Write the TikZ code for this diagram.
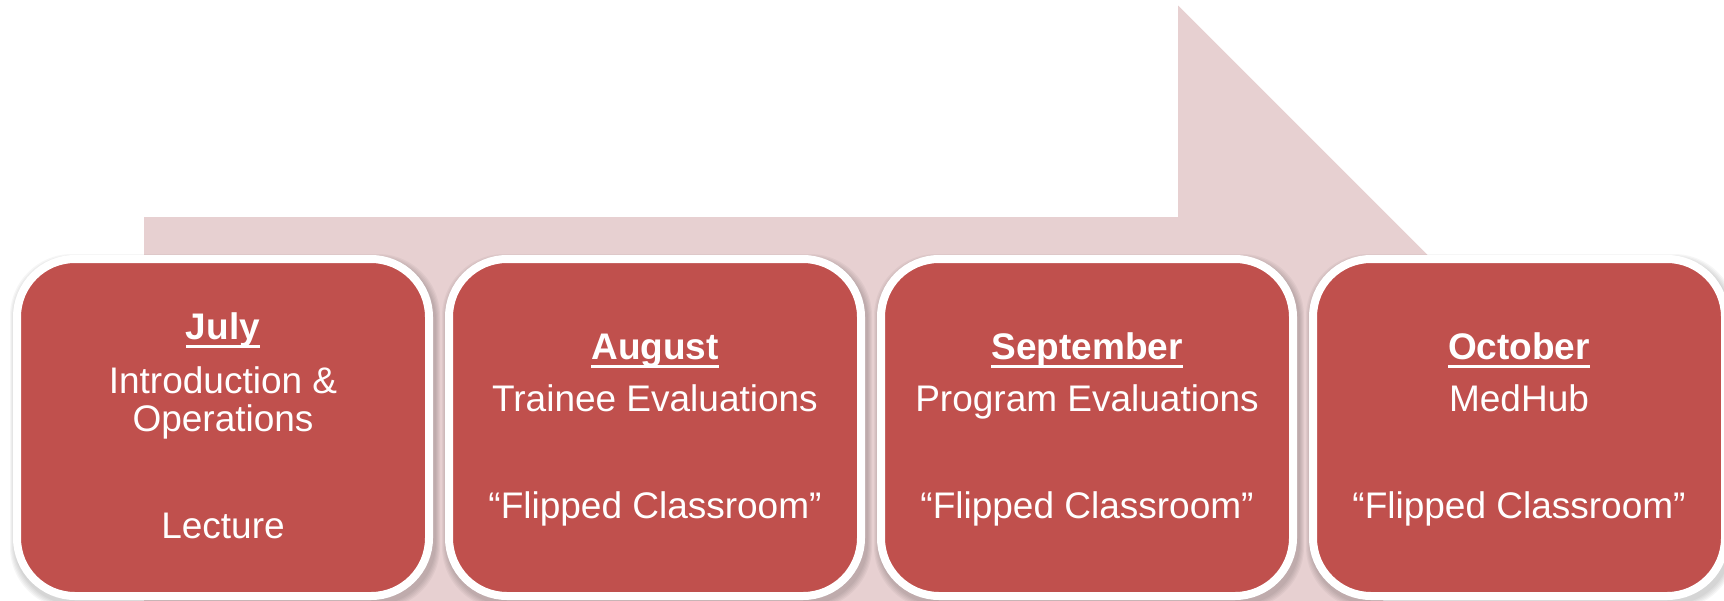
\documentclass[tikz,border=0pt]{standalone}
\usepackage{fontspec}
\setmainfont{Liberation Sans}
\definecolor{monthred}{HTML}{C0504D}
\definecolor{arrowpink}{HTML}{E7D0D1}
\tikzset{
  monthbox/.style={fill=monthred, draw=white, line width=8pt, rounded corners=58pt,
    minimum width=412pt, minimum height=337pt, inner sep=0pt},
  boxshade/.style={fill=black, opacity=0.035, rounded corners=62pt},
  bodytext/.style={text=white, anchor=base, inner sep=0pt, font=\fontsize{37}{44}\selectfont},
  monthtitle/.style={bodytext, font=\fontsize{37}{44}\selectfont\bfseries},
}
% underlined month heading
\newcommand\monthul[1]{\setbox0\hbox{#1}\rlap{\rule[-9pt]{\wd0}{3pt}}\box0}
\begin{document}
\begin{tikzpicture}[x=1pt, y=-1pt]
  \useasboundingbox (0,0) rectangle (1724,600);
  \clip (0,0) rectangle (1724,600);
  % large background arrow
  \fill[arrowpink] (144,217) -- (1178,217) -- (1178,5.5) -- (1578,405.5)
    -- (1178,805.5) -- (144,805.5) -- cycle;
  % soft shadows below the month boxes
  \foreach \cx in {223,655,1087,1519} {
    \foreach \s in {1,...,5}
      \fill[boxshade] (\cx-210-\s+2, 255-\s+4) rectangle (\cx+210+\s+2, 600+\s+4);
  }
  % month boxes
  \node[monthbox] (b1) at (223,427.5) {};
  \node[monthbox] (b2) at (655,427.5) {};
  \node[monthbox] (b3) at (1087,427.5) {};
  \node[monthbox] (b4) at (1519,427.5) {};
  % July
  \node[monthtitle] (t1) at (223,339) {\monthul{July}};
  \node[bodytext] (l1a) at (223,393) {Introduction \&};
  \node[bodytext] (l1b) at (223,431.7) {Operations};
  \node[bodytext] (l1c) at (223,538) {Lecture};
  % August
  \node[monthtitle] (t2) at (655,359) {\monthul{August}};
  \node[bodytext] (l2a) at (655,411.7) {Trainee Evaluations};
  \node[bodytext] (l2b) at (655,518) {“Flipped Classroom”};
  % September
  \node[monthtitle] (t3) at (1087,359) {\monthul{September}};
  \node[bodytext] (l3a) at (1087,411.7) {Program Evaluations};
  \node[bodytext] (l3b) at (1087,518) {“Flipped Classroom”};
  % October
  \node[monthtitle] (t4) at (1519,359) {\monthul{October}};
  \node[bodytext] (l4a) at (1519,411.7) {MedHub};
  \node[bodytext] (l4b) at (1519,518) {“Flipped Classroom”};
\end{tikzpicture}
\end{document}
